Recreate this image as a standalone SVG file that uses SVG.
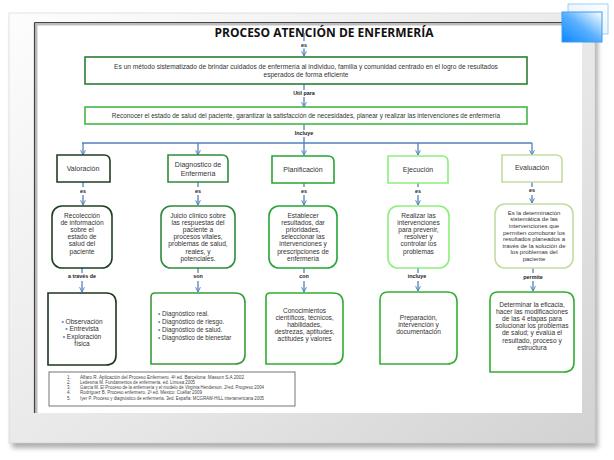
<svg xmlns="http://www.w3.org/2000/svg" width="614" height="460" viewBox="0 0 614 460">
<defs>
<linearGradient id="frameG" x1="0" y1="0" x2="1" y2="1"><stop offset="0" stop-color="#fdfdfd"/><stop offset="0.6" stop-color="#e6e6e6"/><stop offset="1" stop-color="#d2d2d2"/></linearGradient>
<linearGradient id="blueG" x1="0" y1="1" x2="1" y2="0"><stop offset="0" stop-color="#0a86ff"/><stop offset="0.5" stop-color="#5ab0ff"/><stop offset="1" stop-color="#ffffff"/></linearGradient>
<linearGradient id="blueG2" x1="0" y1="1" x2="1" y2="0"><stop offset="0" stop-color="#d8ecfb"/><stop offset="1" stop-color="#ffffff"/></linearGradient>
<filter id="sh" x="-5%" y="-5%" width="110%" height="110%"><feGaussianBlur stdDeviation="2.5"/></filter>
<marker id="ar" viewBox="0 0 10 10" refX="9" refY="5" markerWidth="6" markerHeight="6" orient="auto" markerUnits="userSpaceOnUse"><path d="M1,1 L9,5 L1,9" fill="none" stroke="#4f81bd" stroke-width="1.6"/></marker>
<style>
.t{font-family:"Liberation Sans",Arial,sans-serif;fill:#333;text-anchor:middle}
.lbl{font-family:"Liberation Sans",Arial,sans-serif;font-weight:bold;font-size:5.4px;fill:#222;text-anchor:middle}
.c{stroke:#4f81bd;stroke-width:1.3;fill:none}
.ca{marker-end:url(#ar)}
.b{fill:#fff;stroke-width:1.6}
.ref{font-family:"Liberation Sans",Arial,sans-serif;font-size:4.5px;fill:#444}
.bu{fill:#4f81bd}
</style>
</defs>
<!-- frame -->
<rect x="12" y="18" width="586" height="430" fill="#9a9a9a" filter="url(#sh)" opacity="0.8"/>
<rect x="9" y="13" width="586" height="430" fill="url(#frameG)" stroke="#d0d0d0" stroke-width="0.6"/>
<rect x="35" y="23" width="547" height="390" fill="#ffffff"/>
<line x1="36" y1="23" x2="36" y2="413" stroke="#bdbdbd" stroke-width="3"/>
<line x1="35" y1="24" x2="582" y2="24" stroke="#bdbdbd" stroke-width="3"/>
<line x1="34.5" y1="22.5" x2="34.5" y2="413" stroke="#444" stroke-width="1.2"/>
<line x1="34.5" y1="22.5" x2="582" y2="22.5" stroke="#444" stroke-width="1.2"/>
<rect x="568" y="4" width="40" height="30" fill="url(#blueG2)" stroke="#9ccff5" stroke-width="1"/>
<rect x="562" y="12" width="40" height="30" fill="url(#blueG)" stroke="#3a9ff0" stroke-width="1"/>

<text x="324" y="37" font-family="'Open Sans','Liberation Sans',sans-serif" font-weight="bold" font-size="13" fill="#111" text-anchor="middle" textLength="219" lengthAdjust="spacingAndGlyphs">PROCESO ATENCIÓN DE ENFERMERÍA</text>

<g id="connectors">
<line class="c" x1="304" y1="33" x2="304" y2="41"/>
<line class="c ca" x1="304" y1="48.5" x2="304" y2="56"/>
<line class="c" x1="304" y1="84" x2="304" y2="90"/>
<line class="c ca" x1="304" y1="97" x2="304" y2="107"/>
<line class="c" x1="304" y1="124" x2="304" y2="130"/>
<line class="c" x1="304" y1="137" x2="304" y2="143"/>
<line class="c" x1="82" y1="143" x2="532" y2="143"/>
<line class="c ca" x1="83" y1="143" x2="83" y2="155"/>
<line class="c ca" x1="198" y1="143" x2="198" y2="155"/>
<line class="c ca" x1="304" y1="143" x2="304" y2="155"/>
<line class="c ca" x1="418" y1="143" x2="418" y2="155"/>
<line class="c ca" x1="532" y1="143" x2="532" y2="155"/>
<line class="c" x1="83" y1="182" x2="83" y2="187"/>
<line class="c ca" x1="83" y1="195" x2="83" y2="205"/>
<line class="c" x1="198" y1="182" x2="198" y2="187"/>
<line class="c ca" x1="198" y1="195" x2="198" y2="205"/>
<line class="c" x1="304" y1="183" x2="304" y2="187"/>
<line class="c ca" x1="304" y1="195" x2="304" y2="205"/>
<line class="c" x1="418" y1="183" x2="418" y2="187"/>
<line class="c ca" x1="418" y1="195" x2="418" y2="205"/>
<line class="c" x1="532" y1="182" x2="532" y2="187"/>
<line class="c ca" x1="532" y1="195" x2="532" y2="203"/>
<line class="c" x1="82" y1="268" x2="82" y2="273"/>
<line class="c ca" x1="82" y1="281" x2="82" y2="292"/>
<line class="c" x1="198" y1="268" x2="198" y2="273"/>
<line class="c ca" x1="198" y1="281" x2="198" y2="292"/>
<line class="c" x1="304" y1="268" x2="304" y2="273"/>
<line class="c ca" x1="304" y1="281" x2="304" y2="292"/>
<line class="c" x1="418" y1="268" x2="418" y2="273"/>
<line class="c ca" x1="418" y1="281" x2="418" y2="291"/>
<line class="c" x1="533" y1="268" x2="533" y2="273"/>
<line class="c ca" x1="533" y1="281" x2="533" y2="291"/>
<text class="lbl" x="304" y="46.5">es</text>
<text class="lbl" x="304" y="95">Util para</text>
<text class="lbl" x="304" y="135">Incluye</text>
<text class="lbl" x="83" y="192.5">es</text>
<text class="lbl" x="198" y="192.5">es</text>
<text class="lbl" x="304" y="192.5">es</text>
<text class="lbl" x="418" y="192.5">es</text>
<text class="lbl" x="532" y="192">es</text>
<text class="lbl" x="82" y="278">a través de</text>
<text class="lbl" x="198" y="278">son</text>
<text class="lbl" x="304" y="278">con</text>
<text class="lbl" x="417" y="278">incluye</text>
<text class="lbl" x="533" y="278.5">permite</text>
</g>

<g id="definicion">
<rect class="b" x="85" y="57" width="442" height="27" stroke="#2e7d32"/>
<text class="t" x="306" y="69" font-size="6.6">Es un método sistematizado de brindar cuidados de enfermería al individuo, familia y comunidad centrado en el logro de resultados</text>
<text class="t" x="306" y="77" font-size="6.6">esperados de forma eficiente</text>
</g>
<g id="utilidad">
<rect class="b" x="85" y="107" width="442" height="17" stroke="#41b845"/>
<text class="t" x="306" y="118" font-size="6.4">Reconocer el estado  de salud del paciente, garantizar la satisfacción de necesidades, planear y realizar las intervenciones de enfermería</text>
</g>

<g id="valoracion">
<path class="b" d="M57,155 H104 Q110,155 110,161 V182 H57 Z" stroke="#1f3f22"/>
<text class="t" x="83" y="170.5" font-size="7">Valoración</text>
</g>
<g id="diagnostico">
<path class="b" d="M168,155 H222 Q228,155 228,161 V182 H168 Z" stroke="#2f8a3c"/>
<text class="t" x="198" y="167" font-size="7">Diagnostico de</text>
<text class="t" x="198" y="175.5" font-size="7">Enfermería</text>
</g>
<g id="planificacion">
<path class="b" d="M272,156 H328 Q334,156 334,162 V183 H272 Z" stroke="#24a534"/>
<text class="t" x="303" y="171.5" font-size="7">Planificación</text>
</g>
<g id="ejecucion">
<path class="b" d="M388,156 H442 Q448,156 448,162 V183 H388 Z" stroke="#8cef7c"/>
<text class="t" x="418" y="171.5" font-size="7">Ejecución</text>
</g>
<g id="evaluacion">
<path class="b" d="M502,155 H556 Q562,155 562,161 V182 H502 Z" stroke="#c4dba2"/>
<text class="t" x="532" y="170" font-size="7">Evaluación</text>
</g>

<g id="valoracion-def">
<rect class="b" x="52" y="206" width="60" height="62" rx="10" stroke="#1f3f22"/>
<text class="t" font-size="6.6"><tspan x="82" y="217.5">Recolección</tspan><tspan x="82" y="224.7">de información</tspan><tspan x="82" y="231.9">sobre el</tspan><tspan x="82" y="239.1">estado de</tspan><tspan x="82" y="246.3">salud del</tspan><tspan x="82" y="253.5">paciente</tspan></text>
</g>
<g id="diagnostico-def">
<rect class="b" x="161" y="206" width="74" height="62" rx="10" stroke="#2f8a3c"/>
<text class="t" font-size="6.6"><tspan x="198" y="217.5">Juicio clínico sobre</tspan><tspan x="198" y="224.7">las respuestas del</tspan><tspan x="198" y="231.9">paciente a</tspan><tspan x="198" y="239.1">procesos vitales,</tspan><tspan x="198" y="246.3">problemas de salud,</tspan><tspan x="198" y="253.5">reales, y</tspan><tspan x="198" y="260.7">potenciales.</tspan></text>
</g>
<g id="planificacion-def">
<rect class="b" x="269" y="206" width="68" height="62" rx="10" stroke="#24a534"/>
<text class="t" font-size="6.6"><tspan x="303" y="217.5">Establecer</tspan><tspan x="303" y="224.7">resultados, dar</tspan><tspan x="303" y="231.9">prioridades,</tspan><tspan x="303" y="239.1">seleccionar las</tspan><tspan x="303" y="246.3">intervenciones y</tspan><tspan x="303" y="253.5">prescripciones de</tspan><tspan x="303" y="260.7">enfermería</tspan></text>
</g>
<g id="ejecucion-def">
<rect class="b" x="388" y="206" width="61" height="62" rx="10" stroke="#8cef7c"/>
<text class="t" font-size="6.6"><tspan x="418.5" y="217.5">Realizar las</tspan><tspan x="418.5" y="224.7">intervenciones</tspan><tspan x="418.5" y="231.9">para prevenir,</tspan><tspan x="418.5" y="239.1">resolver y</tspan><tspan x="418.5" y="246.3">controlar los</tspan><tspan x="418.5" y="253.5">problemas</tspan></text>
</g>
<g id="evaluacion-def">
<rect class="b" x="495" y="204" width="78" height="64" rx="10" stroke="#c4dba2"/>
<text class="t" font-size="6"><tspan x="534" y="215">Es la determinación</tspan><tspan x="534" y="221.3">sistemática de las</tspan><tspan x="534" y="227.6">intervenciones que</tspan><tspan x="534" y="234.6">permiten corroborar los</tspan><tspan x="534" y="241.4">resultados planeados a</tspan><tspan x="534" y="248">través de la solución de</tspan><tspan x="534" y="254.3">los problemas del</tspan><tspan x="534" y="260.6">paciente</tspan></text>
</g>

<g id="valoracion-medios">
<path class="b" d="M48,293 H106 Q116,293 116,303 V355 Q116,365 106,365 H48 Z" stroke="#1c361e"/>
<text class="t" font-size="6.6"><tspan x="82" y="324"><tspan class="bu">•</tspan> Observación</tspan><tspan x="82" y="331.3"><tspan class="bu">•</tspan> Entrevista</tspan><tspan x="82" y="338.6"><tspan class="bu">•</tspan> Exploración</tspan><tspan x="82" y="345.9">física</tspan></text>
</g>
<g id="diagnostico-tipos">
<path class="b" d="M155,293 H235 Q245,293 245,303 V354 Q245,364 235,364 H151 V297 Q151,293 155,293 Z" stroke="#3a9a3a"/>
<text font-family="'Liberation Sans',Arial,sans-serif" font-size="6.3" fill="#333"><tspan x="158" y="315.5"><tspan class="bu">•</tspan> Diagnóstico real.</tspan><tspan x="158" y="323.8"><tspan class="bu">•</tspan> Diagnóstico de riesgo.</tspan><tspan x="158" y="332.1"><tspan class="bu">•</tspan> Diagnóstico de salud.</tspan><tspan x="158" y="340.4"><tspan class="bu">•</tspan> Diagnóstico de bienestar</tspan></text>
</g>
<g id="planificacion-medios">
<path class="b" d="M270,293 H333 Q343,293 343,303 V354 Q343,364 333,364 H266 V297 Q266,293 270,293 Z" stroke="#2cae2c"/>
<text class="t" font-size="6.5"><tspan x="304.5" y="313">Conocimientos</tspan><tspan x="304.5" y="320">científicos, técnicos,</tspan><tspan x="304.5" y="327">habilidades,</tspan><tspan x="304.5" y="334">destrezas, aptitudes,</tspan><tspan x="304.5" y="341">actitudes y valores</tspan></text>
</g>
<g id="ejecucion-etapas">
<path class="b" d="M388,292 H447 Q457,292 457,302 V354 Q457,364 447,364 H380 V300 Q380,292 388,292 Z" stroke="#33b033"/>
<text class="t" font-size="6.6"><tspan x="418.5" y="320">Preparación,</tspan><tspan x="418.5" y="327">intervención y</tspan><tspan x="418.5" y="334">documentación</tspan></text>
</g>
<g id="evaluacion-fin">
<path class="b" d="M498,292 H564 Q574,292 574,302 V362 Q574,372 564,372 H490 V300 Q490,292 498,292 Z" stroke="#2fae2f"/>
<text class="t" font-size="6.6"><tspan x="532" y="306.5">Determinar la eficacia,</tspan><tspan x="532" y="313.7">hacer las modificaciones</tspan><tspan x="532" y="320.9">de las 4 etapas para</tspan><tspan x="532" y="328.1">solucionar los problemas</tspan><tspan x="532" y="335.3">de salud; y evalúa el</tspan><tspan x="532" y="342.5">resultado, proceso y</tspan><tspan x="532" y="349.7">estructura</tspan></text>
</g>

<g id="referencias">
<rect x="49" y="372" width="246" height="34" fill="#fff" stroke="#666" stroke-width="0.9"/>
<text class="ref" x="67" y="378.5">1.</text>
<text class="ref" x="67" y="383.8">2.</text>
<text class="ref" x="67" y="389.1">3.</text>
<text class="ref" x="67" y="394.4">4.</text>
<text class="ref" x="67" y="399.7">5.</text>
<text class="ref" x="80" y="378.5" textLength="164" lengthAdjust="spacingAndGlyphs">Alfaro R. Aplicación del Proceso Enfermero. 4ª ed. Barcelona: Masson S.A 2002</text>
<text class="ref" x="80" y="383.8" textLength="115" lengthAdjust="spacingAndGlyphs">Ledesma M. Fundamentos de enfermería. ed. Limusa 2005</text>
<text class="ref" x="80" y="389.1" textLength="184" lengthAdjust="spacingAndGlyphs">García M. El Proceso de la enfermería y el modelo de Virginia Henderson. 2ªed. Progreso 2004</text>
<text class="ref" x="80" y="394.4" textLength="122" lengthAdjust="spacingAndGlyphs">Rodríguez B. Proceso enfermero. 2ª ed. México: Cuéllar 2009</text>
<text class="ref" x="80" y="399.7" textLength="184" lengthAdjust="spacingAndGlyphs">Iyer P. Proceso y diagnóstico de enfermería. 3ed. España: MCGRAW-HILL interamericana 2005</text>
</g>
</svg>
